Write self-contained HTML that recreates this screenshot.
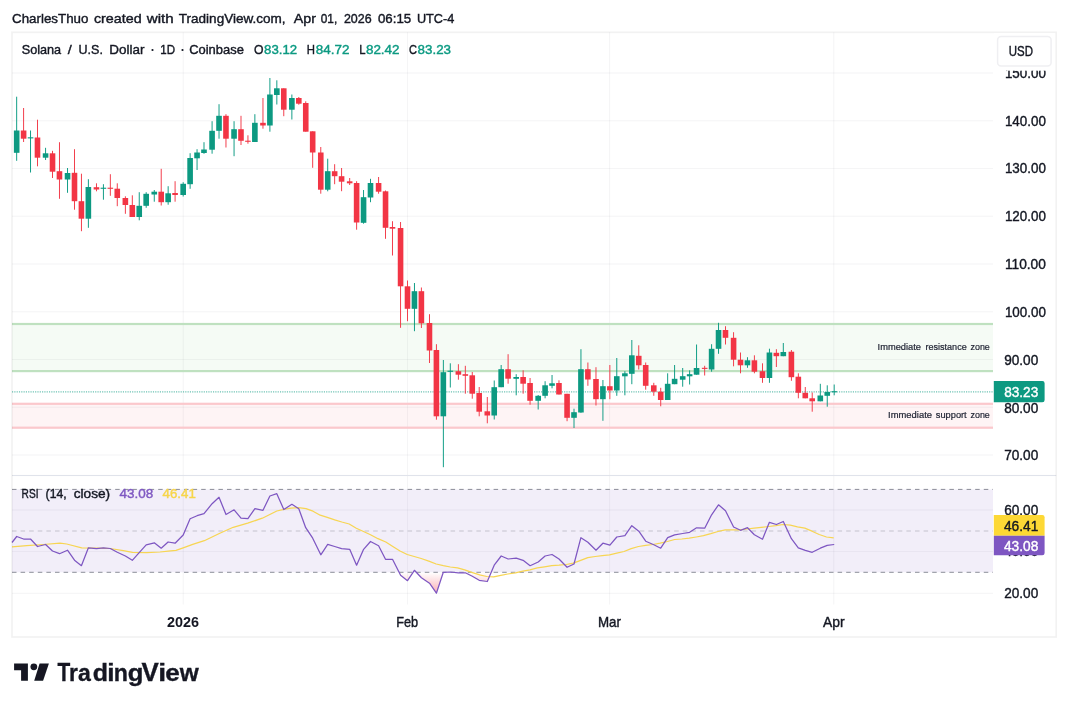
<!DOCTYPE html>
<html><head><meta charset="utf-8"><title>SOLUSD chart</title>
<style>html,body{margin:0;padding:0;background:#fff}body{width:1068px;height:708px;overflow:hidden;font-family:"Liberation Sans", sans-serif}svg{display:block}</style>
</head><body>
<svg width="1068" height="708" viewBox="0 0 1068 708" font-family='"Liberation Sans", sans-serif'>
<defs><filter id="soft" x="0" y="0" width="1068" height="708" filterUnits="userSpaceOnUse"><feGaussianBlur stdDeviation="0.38"/></filter></defs>
<rect width="1068" height="708" fill="#fff"/>
<g filter="url(#soft)">
<rect width="1068" height="708" fill="#fff"/>
<rect x="12" y="454.45" width="981" height="1.1" fill="#1a1e2a" fill-opacity="0.042"/>
<rect x="12" y="406.70" width="981" height="1.1" fill="#1a1e2a" fill-opacity="0.042"/>
<rect x="12" y="358.95" width="981" height="1.1" fill="#1a1e2a" fill-opacity="0.042"/>
<rect x="12" y="311.20" width="981" height="1.1" fill="#1a1e2a" fill-opacity="0.042"/>
<rect x="12" y="263.45" width="981" height="1.1" fill="#1a1e2a" fill-opacity="0.042"/>
<rect x="12" y="215.70" width="981" height="1.1" fill="#1a1e2a" fill-opacity="0.042"/>
<rect x="12" y="167.95" width="981" height="1.1" fill="#1a1e2a" fill-opacity="0.042"/>
<rect x="12" y="120.20" width="981" height="1.1" fill="#1a1e2a" fill-opacity="0.042"/>
<rect x="12" y="72.45" width="981" height="1.1" fill="#1a1e2a" fill-opacity="0.042"/>
<rect x="12" y="509.45" width="981" height="1.1" fill="#1a1e2a" fill-opacity="0.042"/>
<rect x="12" y="550.95" width="981" height="1.1" fill="#1a1e2a" fill-opacity="0.042"/>
<rect x="12" y="592.75" width="981" height="1.1" fill="#1a1e2a" fill-opacity="0.042"/>
<rect x="182.65" y="32.3" width="1.1" height="572.2" fill="#1a1e2a" fill-opacity="0.042"/>
<rect x="406.95" y="32.3" width="1.1" height="572.2" fill="#1a1e2a" fill-opacity="0.042"/>
<rect x="609.05" y="32.3" width="1.1" height="572.2" fill="#1a1e2a" fill-opacity="0.042"/>
<rect x="833.25" y="32.3" width="1.1" height="572.2" fill="#1a1e2a" fill-opacity="0.042"/>
<rect x="12" y="324" width="981" height="47" fill="#4caf50" fill-opacity="0.055"/>
<rect x="12" y="322.9" width="981" height="2.2" fill="#bfe1c0"/>
<rect x="12" y="370" width="981" height="2.2" fill="#bfe1c0"/>
<rect x="12" y="403.8" width="981" height="24" fill="#f23645" fill-opacity="0.055"/>
<rect x="12" y="402.7" width="981" height="2.2" fill="#fbc8cc"/>
<rect x="12" y="426.6" width="981" height="2.2" fill="#fbc8cc"/>
<line x1="12" y1="391.8" x2="993" y2="391.8" stroke="#089981" stroke-width="1.15" stroke-dasharray="1.16 1.15" stroke-opacity="0.6"/>
<rect x="16.20" y="96.70" width="0.95" height="64.10" fill="#089981"/>
<rect x="13.87" y="130.50" width="5.6" height="22.30" fill="#089981"/>
<rect x="23.13" y="108.00" width="0.95" height="34.00" fill="#f23645"/>
<rect x="20.81" y="130.50" width="5.6" height="8.20" fill="#f23645"/>
<rect x="30.07" y="130.50" width="0.95" height="42.00" fill="#089981"/>
<rect x="27.75" y="137.30" width="5.6" height="1.10" fill="#089981"/>
<rect x="37.01" y="119.70" width="0.95" height="46.60" fill="#f23645"/>
<rect x="34.68" y="137.50" width="5.6" height="20.20" fill="#f23645"/>
<rect x="45.10" y="147.80" width="0.95" height="12.20" fill="#089981"/>
<rect x="42.78" y="153.30" width="5.6" height="4.40" fill="#089981"/>
<rect x="52.04" y="150.80" width="0.95" height="27.20" fill="#f23645"/>
<rect x="49.72" y="153.30" width="5.6" height="18.40" fill="#f23645"/>
<rect x="58.98" y="142.20" width="0.95" height="56.60" fill="#f23645"/>
<rect x="56.65" y="171.20" width="5.6" height="8.30" fill="#f23645"/>
<rect x="67.07" y="168.00" width="0.95" height="24.80" fill="#089981"/>
<rect x="64.75" y="173.00" width="5.6" height="6.50" fill="#089981"/>
<rect x="74.01" y="149.20" width="0.95" height="60.50" fill="#f23645"/>
<rect x="71.69" y="172.80" width="5.6" height="28.40" fill="#f23645"/>
<rect x="80.95" y="173.70" width="0.95" height="57.50" fill="#f23645"/>
<rect x="78.62" y="201.20" width="5.6" height="17.50" fill="#f23645"/>
<rect x="87.89" y="179.20" width="0.95" height="48.60" fill="#089981"/>
<rect x="85.56" y="187.00" width="5.6" height="31.70" fill="#089981"/>
<rect x="95.98" y="183.30" width="0.95" height="8.00" fill="#f23645"/>
<rect x="93.65" y="187.20" width="5.6" height="2.30" fill="#f23645"/>
<rect x="102.92" y="184.20" width="0.95" height="15.50" fill="#089981"/>
<rect x="100.59" y="187.70" width="5.6" height="1.10" fill="#089981"/>
<rect x="109.86" y="174.20" width="0.95" height="21.60" fill="#f23645"/>
<rect x="107.53" y="187.70" width="5.6" height="1.10" fill="#f23645"/>
<rect x="116.79" y="183.30" width="0.95" height="22.90" fill="#f23645"/>
<rect x="114.47" y="188.70" width="5.6" height="9.30" fill="#f23645"/>
<rect x="124.89" y="196.30" width="0.95" height="17.50" fill="#f23645"/>
<rect x="122.56" y="198.00" width="5.6" height="7.00" fill="#f23645"/>
<rect x="131.83" y="195.30" width="0.95" height="21.70" fill="#f23645"/>
<rect x="129.50" y="205.00" width="5.6" height="12.00" fill="#f23645"/>
<rect x="138.76" y="192.20" width="0.95" height="28.10" fill="#089981"/>
<rect x="136.44" y="205.80" width="5.6" height="11.20" fill="#089981"/>
<rect x="145.70" y="192.20" width="0.95" height="15.60" fill="#089981"/>
<rect x="143.38" y="193.80" width="5.6" height="12.00" fill="#089981"/>
<rect x="153.79" y="190.00" width="0.95" height="11.70" fill="#089981"/>
<rect x="151.47" y="191.70" width="5.6" height="2.80" fill="#089981"/>
<rect x="160.73" y="168.80" width="0.95" height="36.70" fill="#f23645"/>
<rect x="158.41" y="191.70" width="5.6" height="10.50" fill="#f23645"/>
<rect x="167.67" y="186.20" width="0.95" height="18.50" fill="#089981"/>
<rect x="165.35" y="193.30" width="5.6" height="8.90" fill="#089981"/>
<rect x="174.61" y="181.20" width="0.95" height="20.50" fill="#f23645"/>
<rect x="172.28" y="193.00" width="5.6" height="2.00" fill="#f23645"/>
<rect x="182.70" y="182.20" width="0.95" height="14.30" fill="#089981"/>
<rect x="180.38" y="183.80" width="5.6" height="11.20" fill="#089981"/>
<rect x="189.64" y="153.20" width="0.95" height="35.60" fill="#089981"/>
<rect x="187.31" y="158.00" width="5.6" height="26.20" fill="#089981"/>
<rect x="196.58" y="149.20" width="0.95" height="20.80" fill="#089981"/>
<rect x="194.25" y="152.50" width="5.6" height="5.80" fill="#089981"/>
<rect x="203.52" y="142.20" width="0.95" height="11.60" fill="#089981"/>
<rect x="201.19" y="149.50" width="5.6" height="3.50" fill="#089981"/>
<rect x="211.61" y="121.20" width="0.95" height="32.50" fill="#089981"/>
<rect x="209.28" y="130.80" width="5.6" height="18.90" fill="#089981"/>
<rect x="218.55" y="104.20" width="0.95" height="34.50" fill="#089981"/>
<rect x="216.22" y="115.80" width="5.6" height="15.00" fill="#089981"/>
<rect x="225.49" y="114.20" width="0.95" height="33.30" fill="#f23645"/>
<rect x="223.16" y="115.80" width="5.6" height="22.90" fill="#f23645"/>
<rect x="233.58" y="121.20" width="0.95" height="35.00" fill="#089981"/>
<rect x="231.25" y="129.20" width="5.6" height="9.50" fill="#089981"/>
<rect x="240.52" y="115.80" width="0.95" height="29.20" fill="#f23645"/>
<rect x="238.19" y="129.20" width="5.6" height="11.60" fill="#f23645"/>
<rect x="247.46" y="135.30" width="0.95" height="8.40" fill="#f23645"/>
<rect x="245.13" y="140.70" width="5.6" height="1.10" fill="#f23645"/>
<rect x="254.39" y="114.20" width="0.95" height="27.80" fill="#089981"/>
<rect x="252.07" y="122.80" width="5.6" height="19.20" fill="#089981"/>
<rect x="262.49" y="98.00" width="0.95" height="30.70" fill="#f23645"/>
<rect x="260.16" y="122.80" width="5.6" height="2.70" fill="#f23645"/>
<rect x="269.42" y="78.00" width="0.95" height="53.70" fill="#089981"/>
<rect x="267.10" y="94.50" width="5.6" height="31.00" fill="#089981"/>
<rect x="276.36" y="80.30" width="0.95" height="24.20" fill="#089981"/>
<rect x="274.04" y="88.30" width="5.6" height="6.70" fill="#089981"/>
<rect x="283.30" y="88.30" width="0.95" height="27.90" fill="#f23645"/>
<rect x="280.98" y="88.30" width="5.6" height="21.40" fill="#f23645"/>
<rect x="291.39" y="94.50" width="0.95" height="25.00" fill="#089981"/>
<rect x="289.07" y="98.00" width="5.6" height="11.70" fill="#089981"/>
<rect x="298.33" y="97.00" width="0.95" height="7.70" fill="#f23645"/>
<rect x="296.01" y="98.00" width="5.6" height="5.70" fill="#f23645"/>
<rect x="305.27" y="101.30" width="0.95" height="30.40" fill="#f23645"/>
<rect x="302.95" y="103.00" width="5.6" height="28.70" fill="#f23645"/>
<rect x="312.21" y="131.30" width="0.95" height="36.50" fill="#f23645"/>
<rect x="309.88" y="131.30" width="5.6" height="21.20" fill="#f23645"/>
<rect x="320.30" y="147.00" width="0.95" height="46.70" fill="#f23645"/>
<rect x="317.98" y="152.50" width="5.6" height="37.20" fill="#f23645"/>
<rect x="327.24" y="158.70" width="0.95" height="32.60" fill="#089981"/>
<rect x="324.91" y="171.20" width="5.6" height="18.50" fill="#089981"/>
<rect x="334.18" y="164.20" width="0.95" height="20.00" fill="#f23645"/>
<rect x="331.85" y="171.20" width="5.6" height="5.00" fill="#f23645"/>
<rect x="341.12" y="168.00" width="0.95" height="23.20" fill="#f23645"/>
<rect x="338.79" y="176.20" width="5.6" height="5.50" fill="#f23645"/>
<rect x="349.21" y="178.00" width="0.95" height="7.00" fill="#f23645"/>
<rect x="346.88" y="181.30" width="5.6" height="2.00" fill="#f23645"/>
<rect x="356.15" y="181.20" width="0.95" height="48.50" fill="#f23645"/>
<rect x="353.82" y="183.00" width="5.6" height="39.50" fill="#f23645"/>
<rect x="363.09" y="190.00" width="0.95" height="33.70" fill="#089981"/>
<rect x="360.76" y="197.20" width="5.6" height="25.60" fill="#089981"/>
<rect x="370.02" y="178.80" width="0.95" height="23.40" fill="#089981"/>
<rect x="367.70" y="183.00" width="5.6" height="14.50" fill="#089981"/>
<rect x="378.12" y="177.00" width="0.95" height="16.70" fill="#f23645"/>
<rect x="375.79" y="183.00" width="5.6" height="8.70" fill="#f23645"/>
<rect x="385.05" y="190.50" width="0.95" height="48.30" fill="#f23645"/>
<rect x="382.73" y="191.30" width="5.6" height="36.50" fill="#f23645"/>
<rect x="391.99" y="221.20" width="0.95" height="34.30" fill="#f23645"/>
<rect x="389.67" y="227.00" width="5.6" height="1.70" fill="#f23645"/>
<rect x="400.09" y="222.00" width="0.95" height="105.80" fill="#f23645"/>
<rect x="397.76" y="228.00" width="5.6" height="58.30" fill="#f23645"/>
<rect x="407.02" y="280.50" width="0.95" height="40.70" fill="#f23645"/>
<rect x="404.70" y="286.30" width="5.6" height="22.50" fill="#f23645"/>
<rect x="413.96" y="283.00" width="0.95" height="48.20" fill="#089981"/>
<rect x="411.64" y="291.20" width="5.6" height="17.60" fill="#089981"/>
<rect x="420.90" y="287.50" width="0.95" height="40.50" fill="#f23645"/>
<rect x="418.58" y="291.20" width="5.6" height="32.10" fill="#f23645"/>
<rect x="428.99" y="314.20" width="0.95" height="48.80" fill="#f23645"/>
<rect x="426.67" y="323.00" width="5.6" height="27.50" fill="#f23645"/>
<rect x="435.93" y="344.20" width="0.95" height="75.50" fill="#f23645"/>
<rect x="433.61" y="350.00" width="5.6" height="66.30" fill="#f23645"/>
<rect x="442.87" y="360.00" width="0.95" height="107.20" fill="#089981"/>
<rect x="440.54" y="372.20" width="5.6" height="44.10" fill="#089981"/>
<rect x="449.81" y="363.30" width="0.95" height="24.20" fill="#089981"/>
<rect x="447.48" y="370.70" width="5.6" height="1.10" fill="#089981"/>
<rect x="457.90" y="364.20" width="0.95" height="15.50" fill="#f23645"/>
<rect x="455.58" y="371.20" width="5.6" height="3.50" fill="#f23645"/>
<rect x="464.84" y="365.80" width="0.95" height="27.90" fill="#f23645"/>
<rect x="462.51" y="374.20" width="5.6" height="1.60" fill="#f23645"/>
<rect x="471.78" y="372.00" width="0.95" height="26.70" fill="#f23645"/>
<rect x="469.45" y="375.30" width="5.6" height="18.40" fill="#f23645"/>
<rect x="478.72" y="387.00" width="0.95" height="29.30" fill="#f23645"/>
<rect x="476.39" y="393.00" width="5.6" height="18.70" fill="#f23645"/>
<rect x="486.81" y="397.00" width="0.95" height="26.30" fill="#f23645"/>
<rect x="484.48" y="411.30" width="5.6" height="4.20" fill="#f23645"/>
<rect x="493.75" y="380.50" width="0.95" height="39.00" fill="#089981"/>
<rect x="491.42" y="387.20" width="5.6" height="28.30" fill="#089981"/>
<rect x="500.68" y="365.00" width="0.95" height="22.20" fill="#089981"/>
<rect x="498.36" y="369.20" width="5.6" height="18.00" fill="#089981"/>
<rect x="507.62" y="354.20" width="0.95" height="29.50" fill="#f23645"/>
<rect x="505.30" y="369.20" width="5.6" height="9.50" fill="#f23645"/>
<rect x="515.72" y="374.20" width="0.95" height="21.10" fill="#089981"/>
<rect x="513.39" y="377.00" width="5.6" height="1.80" fill="#089981"/>
<rect x="522.65" y="370.30" width="0.95" height="23.40" fill="#f23645"/>
<rect x="520.33" y="377.00" width="5.6" height="6.70" fill="#f23645"/>
<rect x="529.59" y="378.00" width="0.95" height="26.70" fill="#f23645"/>
<rect x="527.27" y="383.00" width="5.6" height="17.80" fill="#f23645"/>
<rect x="537.69" y="395.00" width="0.95" height="14.50" fill="#089981"/>
<rect x="535.36" y="395.80" width="5.6" height="5.00" fill="#089981"/>
<rect x="544.62" y="381.20" width="0.95" height="17.10" fill="#089981"/>
<rect x="542.30" y="385.30" width="5.6" height="10.50" fill="#089981"/>
<rect x="551.56" y="375.00" width="0.95" height="13.30" fill="#089981"/>
<rect x="549.24" y="383.30" width="5.6" height="2.50" fill="#089981"/>
<rect x="558.50" y="380.30" width="0.95" height="14.20" fill="#f23645"/>
<rect x="556.17" y="383.00" width="5.6" height="11.50" fill="#f23645"/>
<rect x="566.59" y="393.80" width="0.95" height="27.40" fill="#f23645"/>
<rect x="564.27" y="393.80" width="5.6" height="24.00" fill="#f23645"/>
<rect x="573.53" y="408.70" width="0.95" height="19.30" fill="#089981"/>
<rect x="571.21" y="412.20" width="5.6" height="5.60" fill="#089981"/>
<rect x="580.47" y="349.20" width="0.95" height="63.60" fill="#089981"/>
<rect x="578.14" y="369.20" width="5.6" height="43.30" fill="#089981"/>
<rect x="587.41" y="362.50" width="0.95" height="23.30" fill="#f23645"/>
<rect x="585.08" y="369.20" width="5.6" height="10.30" fill="#f23645"/>
<rect x="595.50" y="367.20" width="0.95" height="38.30" fill="#f23645"/>
<rect x="593.18" y="379.00" width="5.6" height="20.20" fill="#f23645"/>
<rect x="602.44" y="380.00" width="0.95" height="40.80" fill="#089981"/>
<rect x="600.11" y="386.20" width="5.6" height="13.00" fill="#089981"/>
<rect x="609.38" y="365.00" width="0.95" height="34.20" fill="#f23645"/>
<rect x="607.05" y="386.20" width="5.6" height="4.30" fill="#f23645"/>
<rect x="616.31" y="358.00" width="0.95" height="37.80" fill="#089981"/>
<rect x="613.99" y="376.20" width="5.6" height="14.30" fill="#089981"/>
<rect x="624.41" y="371.20" width="0.95" height="24.10" fill="#089981"/>
<rect x="622.08" y="373.30" width="5.6" height="3.00" fill="#089981"/>
<rect x="631.35" y="340.00" width="0.95" height="44.20" fill="#089981"/>
<rect x="629.02" y="355.30" width="5.6" height="18.50" fill="#089981"/>
<rect x="638.28" y="345.30" width="0.95" height="24.20" fill="#f23645"/>
<rect x="635.96" y="355.80" width="5.6" height="9.50" fill="#f23645"/>
<rect x="645.22" y="362.50" width="0.95" height="27.20" fill="#f23645"/>
<rect x="642.90" y="365.00" width="5.6" height="20.80" fill="#f23645"/>
<rect x="653.32" y="382.80" width="0.95" height="13.00" fill="#f23645"/>
<rect x="650.99" y="385.30" width="5.6" height="6.40" fill="#f23645"/>
<rect x="660.25" y="387.80" width="0.95" height="18.50" fill="#f23645"/>
<rect x="657.93" y="391.70" width="5.6" height="8.30" fill="#f23645"/>
<rect x="667.19" y="373.30" width="0.95" height="26.70" fill="#089981"/>
<rect x="664.87" y="383.80" width="5.6" height="16.20" fill="#089981"/>
<rect x="674.13" y="365.00" width="0.95" height="19.20" fill="#089981"/>
<rect x="671.80" y="378.80" width="5.6" height="5.40" fill="#089981"/>
<rect x="682.22" y="368.00" width="0.95" height="18.70" fill="#089981"/>
<rect x="679.90" y="376.20" width="5.6" height="3.50" fill="#089981"/>
<rect x="689.16" y="370.30" width="0.95" height="14.20" fill="#089981"/>
<rect x="686.84" y="374.20" width="5.6" height="2.10" fill="#089981"/>
<rect x="696.10" y="344.50" width="0.95" height="30.20" fill="#089981"/>
<rect x="693.77" y="368.00" width="5.6" height="6.70" fill="#089981"/>
<rect x="704.19" y="365.80" width="0.95" height="9.70" fill="#f23645"/>
<rect x="701.87" y="367.80" width="5.6" height="1.10" fill="#f23645"/>
<rect x="711.13" y="344.20" width="0.95" height="27.50" fill="#089981"/>
<rect x="708.81" y="348.80" width="5.6" height="20.70" fill="#089981"/>
<rect x="718.07" y="322.80" width="0.95" height="31.00" fill="#089981"/>
<rect x="715.74" y="330.00" width="5.6" height="18.80" fill="#089981"/>
<rect x="725.01" y="326.20" width="0.95" height="18.30" fill="#f23645"/>
<rect x="722.68" y="330.00" width="5.6" height="7.80" fill="#f23645"/>
<rect x="733.10" y="332.20" width="0.95" height="34.10" fill="#f23645"/>
<rect x="730.78" y="337.80" width="5.6" height="21.90" fill="#f23645"/>
<rect x="740.04" y="352.50" width="0.95" height="20.80" fill="#f23645"/>
<rect x="737.71" y="359.70" width="5.6" height="5.60" fill="#f23645"/>
<rect x="746.98" y="357.20" width="0.95" height="10.60" fill="#089981"/>
<rect x="744.65" y="360.30" width="5.6" height="5.00" fill="#089981"/>
<rect x="753.91" y="355.30" width="0.95" height="18.00" fill="#f23645"/>
<rect x="751.59" y="360.30" width="5.6" height="11.40" fill="#f23645"/>
<rect x="762.01" y="363.30" width="0.95" height="19.50" fill="#f23645"/>
<rect x="759.68" y="371.20" width="5.6" height="6.80" fill="#f23645"/>
<rect x="768.95" y="348.70" width="0.95" height="34.10" fill="#089981"/>
<rect x="766.62" y="352.50" width="5.6" height="25.50" fill="#089981"/>
<rect x="775.88" y="349.20" width="0.95" height="17.80" fill="#f23645"/>
<rect x="773.56" y="352.80" width="5.6" height="3.40" fill="#f23645"/>
<rect x="782.82" y="343.00" width="0.95" height="13.20" fill="#089981"/>
<rect x="780.50" y="352.00" width="5.6" height="4.20" fill="#089981"/>
<rect x="790.92" y="350.00" width="0.95" height="30.80" fill="#f23645"/>
<rect x="788.59" y="351.70" width="5.6" height="25.50" fill="#f23645"/>
<rect x="797.85" y="373.30" width="0.95" height="25.00" fill="#f23645"/>
<rect x="795.53" y="376.70" width="5.6" height="16.10" fill="#f23645"/>
<rect x="804.79" y="387.00" width="0.95" height="11.30" fill="#f23645"/>
<rect x="802.47" y="392.80" width="5.6" height="5.50" fill="#f23645"/>
<rect x="811.73" y="392.50" width="0.95" height="19.20" fill="#f23645"/>
<rect x="809.40" y="398.30" width="5.6" height="3.00" fill="#f23645"/>
<rect x="819.82" y="383.80" width="0.95" height="17.50" fill="#089981"/>
<rect x="817.50" y="395.50" width="5.6" height="5.80" fill="#089981"/>
<rect x="826.76" y="385.30" width="0.95" height="21.40" fill="#089981"/>
<rect x="824.44" y="392.00" width="5.6" height="3.80" fill="#089981"/>
<rect x="833.70" y="384.50" width="0.95" height="10.80" fill="#089981"/>
<rect x="831.37" y="391.20" width="5.6" height="1.10" fill="#089981"/>
<text x="877.6" y="350.4" font-size="9.6" fill="#1c2030" stroke="#1c2030" stroke-width="0.2" paint-order="stroke" textLength="43.4" lengthAdjust="spacingAndGlyphs">Immediate</text>
<text x="925.5" y="350.4" font-size="9.6" fill="#1c2030" stroke="#1c2030" stroke-width="0.2" paint-order="stroke" textLength="41.2" lengthAdjust="spacingAndGlyphs">resistance</text>
<text x="970.5" y="350.4" font-size="9.6" fill="#1c2030" stroke="#1c2030" stroke-width="0.2" paint-order="stroke" textLength="19.3" lengthAdjust="spacingAndGlyphs">zone</text>
<text x="888.1" y="418.4" font-size="9.6" fill="#1c2030" stroke="#1c2030" stroke-width="0.2" paint-order="stroke" textLength="43.9" lengthAdjust="spacingAndGlyphs">Immediate</text>
<text x="935.8" y="418.4" font-size="9.6" fill="#1c2030" stroke="#1c2030" stroke-width="0.2" paint-order="stroke" textLength="30.9" lengthAdjust="spacingAndGlyphs">support</text>
<text x="970.5" y="418.4" font-size="9.6" fill="#1c2030" stroke="#1c2030" stroke-width="0.2" paint-order="stroke" textLength="19.3" lengthAdjust="spacingAndGlyphs">zone</text>
<rect x="12" y="489.4" width="981" height="82.90" fill="#7e57c2" fill-opacity="0.1"/>
<line x1="12" y1="489.4" x2="993" y2="489.4" stroke="#787b86" stroke-width="0.95" stroke-opacity="0.9" stroke-dasharray="4.5 4.1"/>
<line x1="12" y1="531" x2="993" y2="531" stroke="#787b86" stroke-opacity="0.38" stroke-width="1.05" stroke-dasharray="4.5 4.1"/>
<line x1="12" y1="572.3" x2="993" y2="572.3" stroke="#787b86" stroke-width="0.95" stroke-opacity="0.9" stroke-dasharray="4.5 4.1"/>
<defs><linearGradient id="os" x1="0" y1="572.3" x2="0" y2="596" gradientUnits="userSpaceOnUse"><stop offset="0" stop-color="#f23645" stop-opacity="0"/><stop offset="1" stop-color="#f23645" stop-opacity="0.45"/></linearGradient>
<clipPath id="below"><rect x="12" y="572.3" width="981" height="40"/></clipPath></defs>
<polygon clip-path="url(#below)" points="12,572.3 12.0,542.5 16.7,536.5 23.6,539.0 30.5,539.0 37.5,546.5 45.6,544.5 52.5,551.0 59.5,553.7 67.5,550.2 74.5,560.2 81.4,565.7 88.4,547.8 96.5,548.7 103.4,547.8 110.3,548.5 117.3,552.3 125.4,556.0 132.3,560.3 139.2,552.7 146.2,544.8 154.3,542.8 161.2,548.2 168.1,542.0 175.1,543.2 183.2,535.0 190.1,518.7 197.1,515.7 204.0,513.7 212.1,503.7 219.0,497.3 226.0,514.5 234.1,509.8 241.0,518.2 247.9,518.7 254.9,508.7 263.0,510.3 269.9,496.0 276.8,493.7 283.8,509.5 291.9,504.3 298.8,508.7 305.7,527.7 312.7,538.2 320.8,554.8 327.7,544.3 334.7,546.5 341.6,548.7 349.7,549.3 356.6,565.2 363.6,549.3 370.5,541.5 378.6,545.7 385.5,559.3 392.5,559.3 400.6,575.3 407.5,580.7 414.4,570.3 421.4,577.7 429.5,583.2 436.4,593.2 443.3,572.3 450.3,572.0 458.4,572.8 465.3,572.8 472.3,576.2 479.2,580.3 487.3,581.5 494.2,565.2 501.2,556.0 508.1,559.0 516.2,558.2 523.1,560.3 530.1,565.7 538.2,562.0 545.1,556.0 552.0,554.5 559.0,559.0 567.1,567.3 574.0,564.0 580.9,537.7 587.9,542.3 596.0,550.2 602.9,543.2 609.9,545.2 616.8,537.0 624.9,535.7 631.8,525.7 638.8,531.2 645.7,541.2 653.8,544.8 660.7,548.2 667.7,537.7 674.6,534.8 682.7,533.5 689.6,532.3 696.6,527.8 704.7,528.2 711.6,514.8 718.5,504.8 725.5,510.7 733.6,527.0 740.5,530.3 747.5,527.7 754.4,534.8 762.5,539.3 769.4,522.3 776.4,524.5 783.3,521.5 791.4,538.7 798.3,547.8 805.3,550.3 812.2,552.3 820.3,548.2 827.2,545.3 834.2,544.5 834.2,572.3" fill="url(#os)"/>
<polyline fill="none" stroke="#f7d552" stroke-width="1.25" stroke-linejoin="round" points="12.0,546.8 26.7,545.7 43.3,544.5 60.0,543.2 66.7,544.0 81.7,547.8 96.7,548.2 110.0,548.5 123.3,550.7 132.5,552.3 146.7,552.7 160.0,552.0 168.3,551.2 176.0,550.3 183.2,547.8 192.7,544.3 204.3,540.7 219.3,533.5 233.2,527.3 247.7,523.2 262.3,518.2 276.8,511.0 284.0,509.3 291.0,508.2 298.5,507.7 306.0,508.7 313.0,511.2 320.2,515.2 327.3,517.3 334.7,519.8 341.8,522.0 349.2,524.0 356.3,528.2 363.5,531.5 370.5,534.8 378.0,538.7 385.8,542.0 392.8,546.5 400.0,551.0 407.2,554.5 414.2,556.5 421.2,558.5 428.8,561.2 436.2,564.0 443.3,565.7 450.3,567.0 457.5,567.8 464.7,569.8 471.7,572.3 479.7,574.8 486.7,576.5 493.7,576.8 500.8,575.3 507.8,574.0 515.5,572.8 522.8,571.2 530.0,569.8 537.3,567.8 544.5,566.8 551.7,565.7 559.0,565.2 566.2,564.5 573.3,563.2 580.7,560.3 587.8,557.7 595.2,556.5 602.3,555.7 609.5,554.8 616.8,553.2 624.0,551.5 631.2,548.7 638.5,546.5 645.7,545.3 653.0,544.5 660.2,543.2 667.3,541.5 674.7,539.5 681.8,539.0 689.2,538.2 696.3,537.0 703.5,535.7 710.8,533.7 718.0,531.5 725.2,529.8 732.5,529.8 739.7,529.8 746.8,529.0 754.2,528.2 761.3,527.3 768.7,526.5 775.8,525.7 783.0,524.5 790.3,525.2 797.5,526.8 804.8,528.2 812.0,531.2 819.2,534.5 826.5,537.0 833.7,537.8"/>
<polyline fill="none" stroke="#7e57c2" stroke-width="1.25" stroke-linejoin="round" points="12.0,542.5 16.7,536.5 23.6,539.0 30.5,539.0 37.5,546.5 45.6,544.5 52.5,551.0 59.5,553.7 67.5,550.2 74.5,560.2 81.4,565.7 88.4,547.8 96.5,548.7 103.4,547.8 110.3,548.5 117.3,552.3 125.4,556.0 132.3,560.3 139.2,552.7 146.2,544.8 154.3,542.8 161.2,548.2 168.1,542.0 175.1,543.2 183.2,535.0 190.1,518.7 197.1,515.7 204.0,513.7 212.1,503.7 219.0,497.3 226.0,514.5 234.1,509.8 241.0,518.2 247.9,518.7 254.9,508.7 263.0,510.3 269.9,496.0 276.8,493.7 283.8,509.5 291.9,504.3 298.8,508.7 305.7,527.7 312.7,538.2 320.8,554.8 327.7,544.3 334.7,546.5 341.6,548.7 349.7,549.3 356.6,565.2 363.6,549.3 370.5,541.5 378.6,545.7 385.5,559.3 392.5,559.3 400.6,575.3 407.5,580.7 414.4,570.3 421.4,577.7 429.5,583.2 436.4,593.2 443.3,572.3 450.3,572.0 458.4,572.8 465.3,572.8 472.3,576.2 479.2,580.3 487.3,581.5 494.2,565.2 501.2,556.0 508.1,559.0 516.2,558.2 523.1,560.3 530.1,565.7 538.2,562.0 545.1,556.0 552.0,554.5 559.0,559.0 567.1,567.3 574.0,564.0 580.9,537.7 587.9,542.3 596.0,550.2 602.9,543.2 609.9,545.2 616.8,537.0 624.9,535.7 631.8,525.7 638.8,531.2 645.7,541.2 653.8,544.8 660.7,548.2 667.7,537.7 674.6,534.8 682.7,533.5 689.6,532.3 696.6,527.8 704.7,528.2 711.6,514.8 718.5,504.8 725.5,510.7 733.6,527.0 740.5,530.3 747.5,527.7 754.4,534.8 762.5,539.3 769.4,522.3 776.4,524.5 783.3,521.5 791.4,538.7 798.3,547.8 805.3,550.3 812.2,552.3 820.3,548.2 827.2,545.3 834.2,544.5"/>
<rect x="12" y="474.95" width="1044.2" height="1.1" fill="#e0e3eb"/>
<rect x="12" y="32.3" width="1044.2" height="604.7" fill="none" stroke="#1a1e2a" stroke-opacity="0.06" stroke-width="1.7"/>
<text x="1004.2" y="460.2" font-size="14.1" fill="#131722" stroke="#131722" stroke-width="0.4" paint-order="stroke" textLength="34.1" lengthAdjust="spacingAndGlyphs">70.00</text>
<text x="1004.2" y="412.8" font-size="14.1" fill="#131722" stroke="#131722" stroke-width="0.4" paint-order="stroke" textLength="34.1" lengthAdjust="spacingAndGlyphs">80.00</text>
<text x="1004.2" y="365.3" font-size="14.1" fill="#131722" stroke="#131722" stroke-width="0.4" paint-order="stroke" textLength="34.1" lengthAdjust="spacingAndGlyphs">90.00</text>
<text x="1004.9" y="316.6" font-size="14.1" fill="#131722" stroke="#131722" stroke-width="0.4" paint-order="stroke" textLength="41.0" lengthAdjust="spacingAndGlyphs">100.00</text>
<text x="1004.9" y="268.9" font-size="14.1" fill="#131722" stroke="#131722" stroke-width="0.4" paint-order="stroke" textLength="41.0" lengthAdjust="spacingAndGlyphs">110.00</text>
<text x="1004.9" y="221.2" font-size="14.1" fill="#131722" stroke="#131722" stroke-width="0.4" paint-order="stroke" textLength="41.0" lengthAdjust="spacingAndGlyphs">120.00</text>
<text x="1004.9" y="173.4" font-size="14.1" fill="#131722" stroke="#131722" stroke-width="0.4" paint-order="stroke" textLength="41.0" lengthAdjust="spacingAndGlyphs">130.00</text>
<text x="1004.9" y="125.7" font-size="14.1" fill="#131722" stroke="#131722" stroke-width="0.4" paint-order="stroke" textLength="41.0" lengthAdjust="spacingAndGlyphs">140.00</text>
<text x="1004.9" y="77.9" font-size="14.1" fill="#131722" stroke="#131722" stroke-width="0.4" paint-order="stroke" textLength="41.0" lengthAdjust="spacingAndGlyphs">150.00</text>
<text x="1004.2" y="514.9" font-size="14.1" fill="#131722" stroke="#131722" stroke-width="0.4" paint-order="stroke" textLength="34.1" lengthAdjust="spacingAndGlyphs">60.00</text>
<text x="1004.2" y="556.4" font-size="14.1" fill="#131722" stroke="#131722" stroke-width="0.4" paint-order="stroke" textLength="34.1" lengthAdjust="spacingAndGlyphs">40.00</text>
<text x="1004.2" y="598.1999999999999" font-size="14.1" fill="#131722" stroke="#131722" stroke-width="0.4" paint-order="stroke" textLength="34.1" lengthAdjust="spacingAndGlyphs">20.00</text>
<rect x="994" y="33" width="61" height="37.7" fill="#fff"/>
<rect x="997.6" y="36.4" width="53.5" height="29.6" rx="3.5" fill="#fff" stroke="#efeff2" stroke-width="1.5"/>
<text x="1008.8" y="56.2" font-size="14.1" fill="#131722" stroke="#131722" stroke-width="0.4" paint-order="stroke" textLength="24.2" lengthAdjust="spacingAndGlyphs">USD</text>
<path d="M993.8 381 H1042.3 a2.3 2.3 0 0 1 2.3 2.3 V400 a2.3 2.3 0 0 1 -2.3 2.3 H993.8 Z" fill="#089981"/>
<text x="1004.2" y="396.9" font-size="14.1" fill="#fff" stroke="#fff" stroke-width="0.4" paint-order="stroke" textLength="34.1" lengthAdjust="spacingAndGlyphs">83.23</text>
<path d="M993.8 515 H1042.3 a2.3 2.3 0 0 1 2.3 2.3 V535.7 H993.8 Z" fill="#fdd835"/>
<text x="1004.0" y="531.0" font-size="14.1" fill="#131722" stroke="#131722" stroke-width="0.4" paint-order="stroke" textLength="34.3" lengthAdjust="spacingAndGlyphs">46.41</text>
<path d="M993.8 535.7 H1044.6 V553 a2.3 2.3 0 0 1 -2.3 2.3 H993.8 Z" fill="#7e57c2"/>
<text x="1004.0" y="550.5" font-size="14.1" fill="#fff" stroke="#fff" stroke-width="0.4" paint-order="stroke" textLength="34.3" lengthAdjust="spacingAndGlyphs">43.08</text>
<text x="166.9" y="626.7" font-size="14.1" fill="#131722" font-weight="bold" textLength="32.0" lengthAdjust="spacingAndGlyphs">2026</text>
<text x="396.3" y="626.7" font-size="14.1" fill="#131722" stroke="#131722" stroke-width="0.4" paint-order="stroke" textLength="21.9" lengthAdjust="spacingAndGlyphs">Feb</text>
<text x="598.0" y="626.7" font-size="14.1" fill="#131722" stroke="#131722" stroke-width="0.4" paint-order="stroke" textLength="23.0" lengthAdjust="spacingAndGlyphs">Mar</text>
<text x="823.0" y="626.7" font-size="14.1" fill="#131722" stroke="#131722" stroke-width="0.4" paint-order="stroke" textLength="21.6" lengthAdjust="spacingAndGlyphs">Apr</text>
<text x="12.0" y="22.7" font-size="13.4" fill="#131722" stroke="#131722" stroke-width="0.4" paint-order="stroke" textLength="76.4" lengthAdjust="spacingAndGlyphs">CharlesThuo</text>
<text x="93.9" y="22.7" font-size="13.4" fill="#131722" stroke="#131722" stroke-width="0.4" paint-order="stroke" textLength="47.7" lengthAdjust="spacingAndGlyphs">created</text>
<text x="146.8" y="22.7" font-size="13.4" fill="#131722" stroke="#131722" stroke-width="0.4" paint-order="stroke" textLength="26.9" lengthAdjust="spacingAndGlyphs">with</text>
<text x="178.8" y="22.7" font-size="13.4" fill="#131722" stroke="#131722" stroke-width="0.4" paint-order="stroke" textLength="106.8" lengthAdjust="spacingAndGlyphs">TradingView.com,</text>
<text x="293.8" y="22.7" font-size="13.4" fill="#131722" stroke="#131722" stroke-width="0.4" paint-order="stroke" textLength="22.2" lengthAdjust="spacingAndGlyphs">Apr</text>
<text x="320.7" y="22.7" font-size="13.4" fill="#131722" stroke="#131722" stroke-width="0.4" paint-order="stroke" textLength="16.5" lengthAdjust="spacingAndGlyphs">01,</text>
<text x="343.9" y="22.7" font-size="13.4" fill="#131722" stroke="#131722" stroke-width="0.4" paint-order="stroke" textLength="27.7" lengthAdjust="spacingAndGlyphs">2026</text>
<text x="377.9" y="22.7" font-size="13.4" fill="#131722" stroke="#131722" stroke-width="0.4" paint-order="stroke" textLength="33.3" lengthAdjust="spacingAndGlyphs">06:15</text>
<text x="416.9" y="22.7" font-size="13.4" fill="#131722" stroke="#131722" stroke-width="0.4" paint-order="stroke" textLength="37.4" lengthAdjust="spacingAndGlyphs">UTC-4</text>
<text x="21.7" y="54.4" font-size="13.2" fill="#131722" stroke="#131722" stroke-width="0.4" paint-order="stroke" textLength="39.5" lengthAdjust="spacingAndGlyphs">Solana</text>
<text x="67.7" y="54.4" font-size="13.2" fill="#131722" stroke="#131722" stroke-width="0.4" paint-order="stroke" textLength="4.0" lengthAdjust="spacingAndGlyphs">/</text>
<text x="78.5" y="54.4" font-size="13.2" fill="#131722" stroke="#131722" stroke-width="0.4" paint-order="stroke" textLength="24.4" lengthAdjust="spacingAndGlyphs">U.S.</text>
<text x="109.2" y="54.4" font-size="13.2" fill="#131722" stroke="#131722" stroke-width="0.4" paint-order="stroke" textLength="35.2" lengthAdjust="spacingAndGlyphs">Dollar</text>
<text x="160.2" y="54.4" font-size="13.2" fill="#131722" stroke="#131722" stroke-width="0.4" paint-order="stroke" textLength="14.8" lengthAdjust="spacingAndGlyphs">1D</text>
<text x="189.2" y="54.4" font-size="13.2" fill="#131722" stroke="#131722" stroke-width="0.4" paint-order="stroke" textLength="54.7" lengthAdjust="spacingAndGlyphs">Coinbase</text>
<text x="253.9" y="54.4" font-size="13.2" fill="#131722" stroke="#131722" stroke-width="0.4" paint-order="stroke" textLength="9.5" lengthAdjust="spacingAndGlyphs">O</text>
<text x="264.1" y="54.4" font-size="13.2" fill="#089981" stroke="#089981" stroke-width="0.4" paint-order="stroke" textLength="33.0" lengthAdjust="spacingAndGlyphs">83.12</text>
<text x="306.8" y="54.4" font-size="13.2" fill="#131722" stroke="#131722" stroke-width="0.4" paint-order="stroke" textLength="8.2" lengthAdjust="spacingAndGlyphs">H</text>
<text x="315.7" y="54.4" font-size="13.2" fill="#089981" stroke="#089981" stroke-width="0.4" paint-order="stroke" textLength="33.7" lengthAdjust="spacingAndGlyphs">84.72</text>
<text x="359.2" y="54.4" font-size="13.2" fill="#131722" stroke="#131722" stroke-width="0.4" paint-order="stroke" textLength="6.3" lengthAdjust="spacingAndGlyphs">L</text>
<text x="365.9" y="54.4" font-size="13.2" fill="#089981" stroke="#089981" stroke-width="0.4" paint-order="stroke" textLength="33.7" lengthAdjust="spacingAndGlyphs">82.42</text>
<text x="408.9" y="54.4" font-size="13.2" fill="#131722" stroke="#131722" stroke-width="0.4" paint-order="stroke" textLength="8.0" lengthAdjust="spacingAndGlyphs">C</text>
<text x="417.6" y="54.4" font-size="13.2" fill="#089981" stroke="#089981" stroke-width="0.4" paint-order="stroke" textLength="33.4" lengthAdjust="spacingAndGlyphs">83.23</text>
<circle cx="152.5" cy="50" r="1.1" fill="#131722"/><circle cx="182.5" cy="50" r="1.1" fill="#131722"/>
<text x="21.6" y="498.3" font-size="13.2" fill="#131722" stroke="#131722" stroke-width="0.4" paint-order="stroke" textLength="16.9" lengthAdjust="spacingAndGlyphs">RSI</text>
<text x="45.6" y="498.3" font-size="13.2" fill="#131722" stroke="#131722" stroke-width="0.4" paint-order="stroke" textLength="21.0" lengthAdjust="spacingAndGlyphs">(14,</text>
<text x="73.7" y="498.3" font-size="13.2" fill="#131722" stroke="#131722" stroke-width="0.4" paint-order="stroke" textLength="36.5" lengthAdjust="spacingAndGlyphs">close)</text>
<text x="119.6" y="498.3" font-size="13.2" fill="#7e57c2" stroke="#7e57c2" stroke-width="0.4" paint-order="stroke" textLength="33.7" lengthAdjust="spacingAndGlyphs">43.08</text>
<text x="162.6" y="498.3" font-size="13.2" fill="#f7d54a" stroke="#f7d54a" stroke-width="0.4" paint-order="stroke" textLength="33.2" lengthAdjust="spacingAndGlyphs">46.41</text>
<g fill="#131722"><path d="M14.1 663.4H27.9V680.75H21.1V670.3H14.1Z"/><circle cx="33.85" cy="666.8" r="3.4"/><path d="M39.6 663.4H48.9L43.1 680.75H34.2Z"/></g>
<text transform="translate(57.47 680.7) scale(0.835 1)" font-size="25.0" font-weight="bold" fill="#131722" stroke="#131722" stroke-width="0.35">T</text>
<text transform="translate(69.10 680.7) scale(0.909 0.95)" font-size="25.0" font-weight="bold" fill="#131722" stroke="#131722" stroke-width="0.35">r</text>
<text transform="translate(77.93 680.7) scale(0.923 0.95)" font-size="25.0" font-weight="bold" fill="#131722" stroke="#131722" stroke-width="0.35">a</text>
<text transform="translate(92.87 680.7) scale(1.000 0.95)" font-size="25.0" font-weight="bold" fill="#131722" stroke="#131722" stroke-width="0.35">d</text>
<text transform="translate(107.26 680.7) scale(1.051 0.95)" font-size="25.0" font-weight="bold" fill="#131722" stroke="#131722" stroke-width="0.35">i</text>
<text transform="translate(113.77 680.7) scale(0.928 0.95)" font-size="25.0" font-weight="bold" fill="#131722" stroke="#131722" stroke-width="0.35">n</text>
<text transform="translate(127.65 680.7) scale(1.026 0.95)" font-size="25.0" font-weight="bold" fill="#131722" stroke="#131722" stroke-width="0.35">g</text>
<text transform="translate(141.52 680.7) scale(1.035 1)" font-size="25.0" font-weight="bold" fill="#131722" stroke="#131722" stroke-width="0.35">V</text>
<text transform="translate(158.31 680.7) scale(1.139 0.95)" font-size="25.0" font-weight="bold" fill="#131722" stroke="#131722" stroke-width="0.35">i</text>
<text transform="translate(165.18 680.7) scale(1.043 0.95)" font-size="25.0" font-weight="bold" fill="#131722" stroke="#131722" stroke-width="0.35">e</text>
<text transform="translate(179.77 680.7) scale(0.976 0.95)" font-size="25.0" font-weight="bold" fill="#131722" stroke="#131722" stroke-width="0.35">w</text>
</g>
</svg>
</body></html>
